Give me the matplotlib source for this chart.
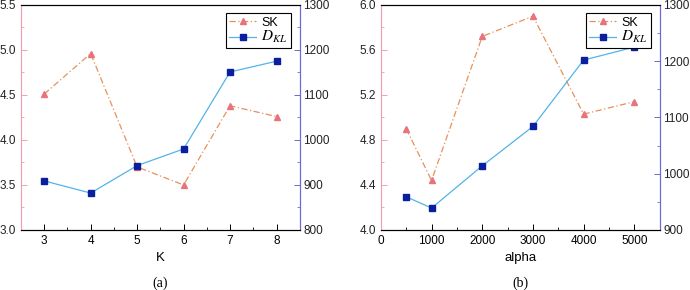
import matplotlib
matplotlib.use("Agg")
import matplotlib.pyplot as plt
from matplotlib.ticker import MultipleLocator, AutoMinorLocator

plt.rcParams["font.family"] = ["Liberation Sans", "DejaVu Sans"]
plt.rcParams["mathtext.fontset"] = "stix"

# (a) varying K
k_vals = [3, 4, 5, 6, 7, 8]
sk_a = [4.51, 4.96, 3.70, 3.50, 4.38, 4.26]
dkl_a = [909, 882, 943, 980, 1151, 1175]

# (b) varying alpha
alpha_vals = [500, 1000, 2000, 3000, 4000, 5000]
sk_b = [4.90, 4.44, 5.72, 5.90, 5.03, 5.14]
dkl_b = [959, 939, 1014, 1084, 1202, 1225]

sk_line = "#e8905a"
sk_mark = "#e8737a"
dkl_line = "#52b4e8"
dkl_mark = "#0b1f9e"
pink = "#f0a0b0"
blue = "#6a6ad8"

fig = plt.figure(figsize=(6.9, 2.9), dpi=100)


def panel(rect, x, sk, dkl, xlim, ylim1, ylim2, ystep1, xlabel, caption, xmajor):
    ax = fig.add_axes(rect)
    ax2 = ax.twinx()
    l1, = ax.plot(x, sk, color=sk_line, linestyle=(0, (5, 2, 1, 2)), lw=0.9,
                  marker="^", markersize=5, markerfacecolor=sk_mark,
                  markeredgecolor=sk_mark, label="SK")
    l2, = ax2.plot(x, dkl, color=dkl_line, lw=0.9, marker="s", markersize=4,
                   markerfacecolor=dkl_mark, markeredgecolor=dkl_mark,
                   label="$D_{KL}$")
    ax.set_xlim(*xlim)
    ax.set_ylim(*ylim1)
    ax2.set_ylim(*ylim2)
    ax.xaxis.set_major_locator(MultipleLocator(xmajor))
    ax.xaxis.set_minor_locator(AutoMinorLocator(2))
    ax.yaxis.set_major_locator(MultipleLocator(ystep1))
    ax.yaxis.set_minor_locator(AutoMinorLocator(2))
    ax2.yaxis.set_major_locator(MultipleLocator(100))
    ax2.yaxis.set_minor_locator(AutoMinorLocator(2))
    for a in (ax, ax2):
        a.tick_params(direction="in", labelsize=8.5, length=4, width=0.7)
        a.tick_params(which="minor", direction="in", length=2, width=0.6)
    ax.tick_params(axis="y", colors=pink, labelcolor="#222222")
    ax2.tick_params(axis="y", colors=blue, labelcolor="#222222", pad=2.5)
    ax.tick_params(axis="y", which="minor", colors=pink)
    ax2.tick_params(axis="y", which="minor", colors=blue)
    ax2.spines["left"].set_color(pink)
    ax2.spines["right"].set_color(blue)
    ax.spines["left"].set_color(pink)
    ax.spines["right"].set_color(blue)
    for a in (ax, ax2):
        for s in a.spines.values():
            s.set_linewidth(0.8)
    ax.set_xlabel(xlabel, fontsize=9.5, labelpad=4)
    ax.text(0.5, -0.235, caption, transform=ax.transAxes, ha="center",
            va="center", fontsize=10, family=["Liberation Serif", "DejaVu Serif"])
    leg = ax2.legend(handles=[l1, l2], loc="upper right", fontsize=9,
                     frameon=True, fancybox=False, edgecolor="black",
                     framealpha=1, borderpad=0.25, handlelength=2.2,
                     labelspacing=0.05, handletextpad=0.4,
                     bbox_to_anchor=(0.99, 0.99))
    leg.get_texts()[1].set_fontsize(11)
    leg.get_frame().set_linewidth(0.8)
    return ax, ax2


panel([0.0304, 0.207, 0.404, 0.776], k_vals, sk_a, dkl_a, (2.5, 8.5),
      (3.0, 5.5), (800, 1300), 0.5, "K", "(a)", 1)
panel([0.552, 0.207, 0.404, 0.776], alpha_vals, sk_b, dkl_b, (0, 5500),
      (4.0, 6.0), (900, 1300), 0.4, "alpha", "(b)", 1000)

fig.savefig("out.png", dpi=100)
